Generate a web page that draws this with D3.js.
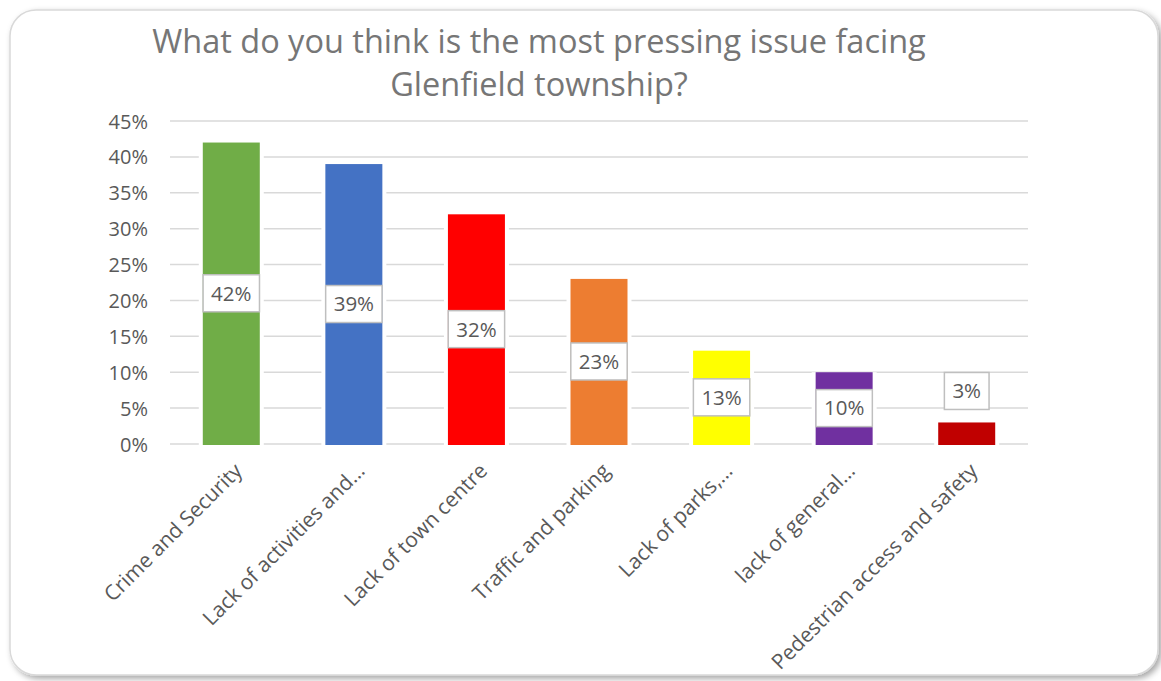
<!DOCTYPE html>
<html>
<head>
<meta charset="utf-8">
<script src="https://cdn.jsdelivr.net/npm/d3@7"></script>
<style>
  html, body { margin: 0; padding: 0; background: #ffffff; }
  svg { display: block; }
  text { font-family: "Open Sans", "Noto Sans", sans-serif; }
</style>
</head>
<body>
<svg id="chart" width="1161" height="681"></svg>
<script>
// Survey responses
const titleLines = ["What do you think is the most pressing issue facing", "Glenfield township?"];
const categories = [
  "Crime and Security",
  "Lack of activities and…",
  "Lack of town centre",
  "Traffic and parking",
  "Lack of parks,…",
  "lack of general…",
  "Pedestrian access and safety"
];
const values = [0.42, 0.39, 0.32, 0.23, 0.13, 0.10, 0.03];
const barColors = ["#70ad47", "#4472c4", "#ff0000", "#ed7d31", "#ffff00", "#7030a0", "#c00000"];
const yTicks = [0, 0.05, 0.10, 0.15, 0.20, 0.25, 0.30, 0.35, 0.40, 0.45];

const svg = d3.select("#chart");

// Drop shadow for the chart frame
const defs = svg.append("defs");
const f = defs.append("filter").attr("id", "shadow")
  .attr("x", "-5%").attr("y", "-5%").attr("width", "110%").attr("height", "112%");
f.append("feDropShadow").attr("dx", 3).attr("dy", 3).attr("stdDeviation", 3)
  .attr("flood-color", "#000").attr("flood-opacity", 0.35);

svg.append("rect")
  .attr("x", 10).attr("y", 10).attr("width", 1148).attr("height", 665)
  .attr("rx", 26).attr("ry", 26)
  .attr("fill", "#ffffff").attr("stroke", "#d9d9d9").attr("stroke-width", 1.5)
  .attr("filter", "url(#shadow)");

// Title
svg.append("text")
  .attr("x", 539).attr("y", 53)
  .attr("text-anchor", "middle")
  .attr("fill", "#767676")
  .attr("font-size", 32.5)
  .selectAll("tspan").data(titleLines).join("tspan")
  .attr("x", 539).attr("dy", (d, i) => i === 0 ? 0 : 43)
  .text(d => d);

const plot = { left: 170, right: 1028, top: 121, bottom: 444 };

const x = d3.scaleBand()
  .domain(categories)
  .range([plot.left, plot.right])
  .paddingInner(0.535)
  .paddingOuter(0.2675);

const y = d3.scaleLinear().domain([0, 0.45]).range([plot.bottom, plot.top]);

// Gridlines
svg.append("g")
  .selectAll("line").data(yTicks).join("line")
  .attr("x1", plot.left).attr("x2", plot.right)
  .attr("y1", d => y(d)).attr("y2", d => y(d))
  .attr("stroke", "#d9d9d9").attr("stroke-width", 1.5);

// Y axis labels
const yAxis = d3.axisLeft(y).tickValues(yTicks).tickFormat(d3.format(".0%")).tickSize(0).tickPadding(0);
const yg = svg.append("g").attr("transform", `translate(${plot.left - 22},0)`).call(yAxis);
yg.select(".domain").remove();
yg.selectAll("text").attr("fill", "#595959").attr("font-size", 20)
  .attr("font-family", "'Open Sans', sans-serif").attr("dy", "0.35em");

const data = categories.map((c, i) => ({ c, v: values[i], color: barColors[i] }));

// White halo around bars so gridlines break around them
svg.append("g").selectAll("rect").data(data).join("rect")
  .attr("x", d => x(d.c) - 4).attr("width", x.bandwidth() + 8)
  .attr("y", d => y(d.v)).attr("height", d => y(0) - y(d.v) + 1)
  .attr("fill", "#ffffff");

svg.append("g").selectAll("rect").data(data).join("rect")
  .attr("x", d => x(d.c)).attr("width", x.bandwidth())
  .attr("y", d => y(d.v)).attr("height", d => y(0) - y(d.v) + 1)
  .attr("fill", d => d.color);

// Data labels
const boxH = 37;
const labels = svg.append("g").selectAll("g").data(data).join("g");
labels.each(function (d) {
  const g = d3.select(this);
  const cx = x(d.c) + x.bandwidth() / 2;
  const barH = y(0) - y(d.v);
  const cy = barH > boxH ? (y(d.v) + y(0)) / 2 : y(d.v) - 13 - boxH / 2;
  const rect = g.append("rect");
  const t = g.append("text")
    .attr("x", cx).attr("y", cy).attr("dy", "0.36em")
    .attr("text-anchor", "middle")
    .attr("fill", "#595959").attr("font-size", 20.5)
    .text(d3.format(".0%")(d.v));
  const tw = t.node().getComputedTextLength();
  const bw = tw + 16;
  rect.attr("x", cx - bw / 2).attr("y", cy - boxH / 2)
    .attr("width", bw).attr("height", boxH)
    .attr("fill", "#ffffff").attr("stroke", "#bfbfbf").attr("stroke-width", 1.5);
});

// Category labels, rotated
svg.append("g").selectAll("text").data(categories).join("text")
  .attr("transform", d => `translate(${x(d) + x.bandwidth() / 2 + 7},${plot.bottom + 23}) rotate(-45)`)
  .attr("text-anchor", "end")
  .attr("dy", "0.35em")
  .attr("fill", "#595959")
  .attr("font-size", 21)
  .text(d => d);
</script>
</body>
</html>
